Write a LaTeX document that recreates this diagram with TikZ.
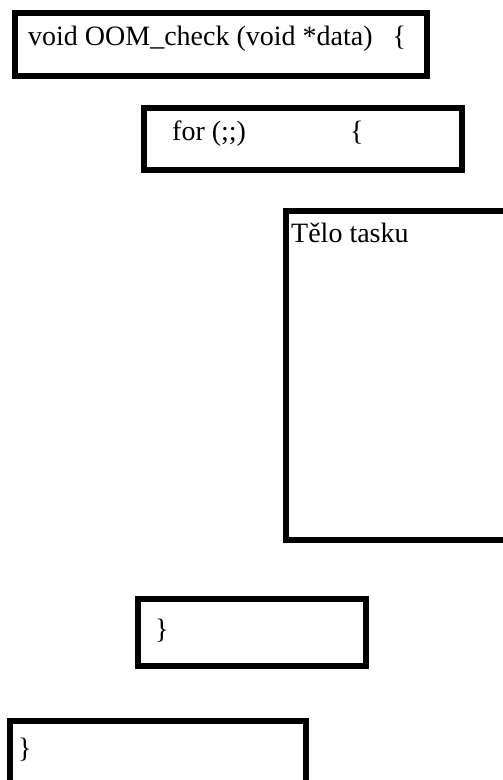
\documentclass[tikz,border=0pt]{standalone}
\usepackage{fontspec}
\setmainfont{Liberation Serif}
\begin{document}
\begin{tikzpicture}[x=1bp,y=-1bp,
  codebox/.style={draw=black,line width=6bp,fill=white},
  codetext/.style={anchor=base west,inner sep=0pt,font=\fontsize{28bp}{32bp}\selectfont}]
\useasboundingbox (0,0) rectangle (503,780);
\clip (0,0) rectangle (503,780);
\fill[white] (0,0) rectangle (503,780);
% boxes
\draw[codebox] (15,13) rectangle (427,76);
\coordinate (b1) at (15,13);
\draw[codebox] (144,108) rectangle (462,170);
\draw[codebox] (286,211) rectangle (520,540);
\draw[codebox] (138,599) rectangle (366,666);
\draw[codebox] (10,721) rectangle (306,800);
% texts
\node[codetext] (t1) at (28,46) {void OOM\_check (void *data)\hspace{20bp}\{};
\node[codetext] (t2) at (172,140) {for (;;)\hspace{104bp}\{};
\node[codetext] (t3) at (291,242) {Tělo tasku};
\node[codetext] (t4) at (155,638) {\}};
\node[codetext] (t5) at (18,757) {\}};
\end{tikzpicture}
\end{document}
